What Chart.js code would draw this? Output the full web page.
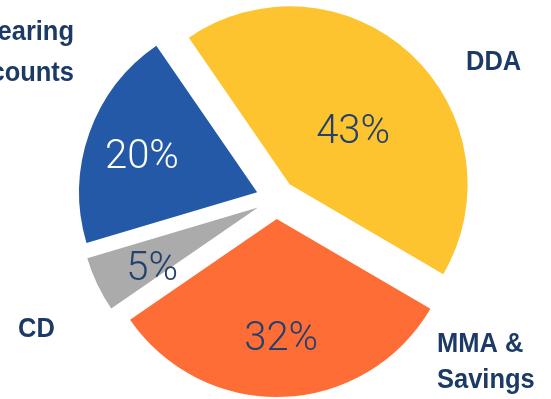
<!DOCTYPE html>
<html>
<head>
<meta charset="utf-8">
<script src="https://cdn.jsdelivr.net/npm/chart.js@4/dist/chart.umd.min.js"></script>
<style>
  html, body { margin: 0; padding: 0; background: #fff; }
  #wrap { width: 551px; height: 399px; }
</style>
</head>
<body>
<div id="wrap"><canvas id="myChart" width="551" height="399"></canvas></div>
<script>
// data
const categories = ["DDA", "MMA & Savings", "CD", "Interest Bearing Accounts"];
const shares = [43, 32, 5, 20];
const sliceColors = ["#fec42f", "#ff6d36", "#ababab", "#2459a8"];
const pctColors = ["#22416d", "#22416d", "#22416d", "#ffffff"];

// category label lines (left one runs off the edge like the original)
const labelLines = [["DDA"], ["MMA &", "Savings"], ["CD"], ["Interest Bearing", "Accounts"]];

const EXPLODE = 20;
const navy = "#1b3a66";
const NARROW = 0.91;

// move every slice out along its middle angle (fixed offset, no radius growth)
const ArcEl = (Chart.elements && Chart.elements.ArcElement) || Chart.registry.getElement("arc");
const baseDraw = ArcEl.prototype.draw;
ArcEl.prototype.draw = function (ctx, area) {
  const mid = (this.startAngle + this.endAngle) / 2;
  ctx.save();
  ctx.translate(Math.cos(mid) * EXPLODE, Math.sin(mid) * EXPLODE);
  baseDraw.call(this, ctx, area);
  ctx.restore();
};

const pctPlace = [
  { frac: 0.46, turn: 8 },
  { frac: 0.68, turn: 0 },
  { frac: 0.69, turn: -5 },
  { frac: 0.675, turn: -3 },
];

// condensed bold text: squeeze a normal bold face horizontally
const narrowText = (ctx, text, x, y, align) => {
  ctx.save();
  ctx.translate(x, y);
  ctx.scale(NARROW, 1);
  ctx.textAlign = align;
  ctx.fillText(text, 0, 0);
  ctx.restore();
};

const labelsPlugin = {
  id: "pieLabels",
  afterDatasetsDraw(chart) {
    const ctx = chart.ctx;
    const meta = chart.getDatasetMeta(0);
    ctx.save();
    ctx.textBaseline = "middle";
    ctx.textAlign = "center";
    ctx.font = "300 40px Roboto, 'Open Sans', sans-serif";
    meta.data.forEach((arc, i) => {
      const mid = (arc.startAngle + arc.endAngle) / 2;
      const ox = arc.x + Math.cos(mid) * EXPLODE;
      const oy = arc.y + Math.sin(mid) * EXPLODE;
      const a = mid + (pctPlace[i].turn * Math.PI) / 180;
      const r = arc.outerRadius * pctPlace[i].frac;
      ctx.fillStyle = pctColors[i];
      ctx.fillText(shares[i] + "%", ox + Math.cos(a) * r, oy + Math.sin(a) * r);
    });

    ctx.fillStyle = navy;
    ctx.font = "bold 28px 'Liberation Sans', Arial, sans-serif";
    ctx.textBaseline = "alphabetic";
    narrowText(ctx, labelLines[0][0], 466, 70, "left");
    narrowText(ctx, labelLines[1][0], 437, 352, "left");
    narrowText(ctx, labelLines[1][1], 437, 388, "left");
    narrowText(ctx, labelLines[2][0], 18, 337, "left");
    narrowText(ctx, labelLines[3][0], 74, 40, "right");
    narrowText(ctx, labelLines[3][1], 74, 81, "right");
    ctx.restore();
  },
};

const data = {
  labels: categories,
  datasets: [
    {
      data: shares,
      backgroundColor: sliceColors,
      borderWidth: 0,
      clip: false,
    },
  ],
};

const config = {
  type: "pie",
  data: data,
  options: {
    responsive: false,
    animation: false,
    rotation: -34.5,
    radius: 178,
    layout: {
      padding: { left: 20, right: 19, top: 0, bottom: 1 },
    },
    plugins: {
      legend: { display: false },
      tooltip: { enabled: false },
    },
  },
  plugins: [labelsPlugin],
};

const myChart = new Chart(document.getElementById("myChart"), config);
</script>
</body>
</html>
